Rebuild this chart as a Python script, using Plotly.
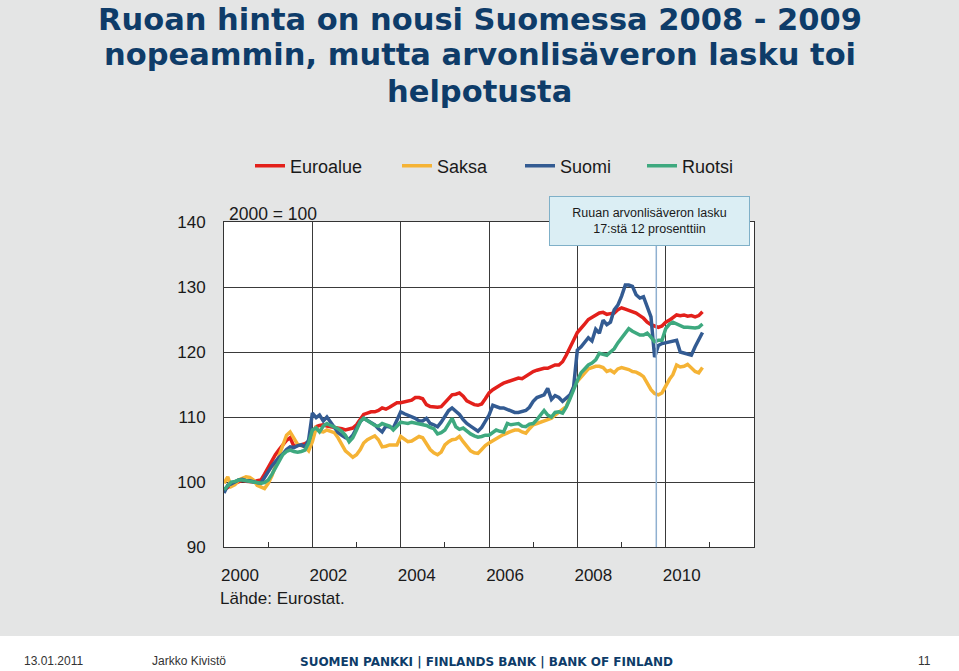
import pandas as pd
import plotly.graph_objects as go

# page / plot-area geometry in pixels
W, H = 959, 671
L, R, T, B = 224, 754, 222, 547


def px2x(px):
    return (px - L) / (R - L)


def px2y(py):
    return (B - py) / (B - T)


months = pd.date_range("2000-01-01", periods=131, freq="MS")

euroalue = [
    98.8, 99.2, 99.5, 99.8, 100.1, 100.3, 100.1, 100.0, 100.0, 100.2, 100.3, 101.2,
    102.3, 103.2, 104.2, 105.0, 105.8, 106.4, 106.8, 105.5, 105.6, 105.7, 105.9, 106.2,
    107.5, 108.5, 108.7, 108.8, 108.6, 108.5, 108.5, 108.3, 108.2, 108.0, 108.1, 108.3,
    108.8, 109.6, 110.4, 110.6, 110.8, 110.8, 111.0, 111.4, 111.2, 111.5, 111.8, 112.2,
    112.2, 112.3, 112.4, 112.6, 113.0, 113.0, 112.8, 111.9, 111.6, 111.5, 111.5, 111.6,
    112.2, 112.8, 113.4, 113.5, 113.7, 113.2, 112.5, 112.2, 111.9, 111.8, 112.0, 112.8,
    113.7, 114.2, 114.6, 114.9, 115.2, 115.4, 115.6, 115.9, 116.0, 115.9, 116.3, 116.6,
    117.0, 117.2, 117.4, 117.5, 117.5, 117.8, 118.0, 118.0, 118.5, 119.5, 120.8, 121.8,
    123.0, 123.6, 124.3, 125.0, 125.3, 125.6, 126.0, 126.1, 125.8, 125.9, 126.0, 126.5,
    126.8, 126.6, 126.4, 126.2, 126.0, 125.6, 125.2, 124.6, 124.2, 124.0, 123.8, 124.0,
    124.6, 124.9, 125.3, 125.7, 125.6, 125.7, 125.5, 125.6, 125.4, 125.6, 126.2,
]

saksa = [
    99.8, 100.8, 99.3, 99.6, 100.3, 100.5, 100.8, 100.7, 100.3, 99.5, 99.2, 99.0,
    99.8, 101.0, 102.5, 104.0, 105.5, 107.2, 107.7, 106.8, 105.8, 105.6, 105.4, 104.8,
    106.2, 108.3, 107.8, 107.7, 108.0, 107.8, 107.6, 106.8, 105.8, 104.8, 104.3, 103.8,
    104.2, 105.0, 106.0, 106.5, 106.8, 107.1, 106.5, 105.4, 105.5, 105.7, 105.7, 105.7,
    107.0, 106.6, 106.2, 106.3, 106.6, 107.0, 106.8, 106.0, 105.0, 104.5, 104.2, 104.6,
    105.7, 106.2, 106.5, 106.6, 107.0, 106.2, 105.4, 104.8, 104.5, 104.4, 105.0, 105.6,
    106.0, 106.4, 106.6, 107.0, 107.3, 107.6, 107.8, 108.0, 108.0, 107.7, 107.5, 108.2,
    108.8, 109.0, 109.2, 109.3, 109.5, 109.8, 110.3, 110.7, 111.2, 111.6, 113.0, 114.6,
    115.5, 116.2, 116.8, 117.4, 117.6, 117.8, 117.8, 117.6, 117.0, 117.2, 116.8, 117.4,
    117.6, 117.5, 117.3, 117.0, 116.9, 116.6, 116.2, 115.2, 114.2, 113.6, 113.4, 113.7,
    114.8, 115.8, 116.5, 118.0, 117.7, 117.8, 118.1, 117.6, 117.0, 116.8, 117.6,
]

suomi = [
    98.3, 99.5, 99.7, 100.0, 100.3, 100.4, 100.2, 100.2, 100.0, 99.9, 99.8, 100.6,
    101.6, 102.5, 103.2, 103.8, 104.3, 105.0, 105.4, 105.3, 105.6, 105.7, 105.4, 106.5,
    110.6, 109.9, 110.3, 109.4, 110.0, 109.2, 108.6, 107.6, 107.2, 106.8, 106.6, 107.2,
    108.3, 109.3, 109.8, 109.5, 109.1, 108.8, 108.2, 107.7, 108.6, 108.5, 108.3, 109.5,
    110.8, 110.5, 110.3, 110.0, 109.8, 109.4, 109.4, 109.8, 109.0, 108.8, 108.5, 109.2,
    110.0, 111.0, 111.4, 110.8, 110.4, 109.6, 109.0, 108.6, 108.2, 107.8, 108.4, 109.4,
    110.3, 111.8, 111.6, 111.4, 111.4, 111.2, 111.0, 110.7, 110.7, 110.8, 111.0, 111.5,
    112.4, 113.0, 113.2, 113.4, 114.4, 112.7, 113.3, 113.0, 112.4, 112.9, 113.4, 114.6,
    120.3, 120.8, 121.5, 122.2, 121.7, 123.5, 122.9, 124.9, 124.2, 124.6, 126.5, 127.2,
    128.6, 130.3, 130.3, 130.1, 128.8, 128.3, 128.5, 126.8, 125.4, 119.2, 121.0, 121.3,
    121.4, 121.5, 121.6, 121.8, 120.0, 119.8, 119.7, 119.5, 120.8, 121.8, 123.0,
]

ruotsi = [
    98.8, 99.5, 100.0, 100.1, 100.3, 100.3, 100.2, 100.1, 100.0, 99.9, 99.8, 99.9,
    100.3, 101.2, 102.2, 103.3, 104.2, 104.7, 104.9, 104.7, 104.6, 104.7, 104.9, 106.0,
    108.0, 108.3, 107.7, 108.6, 109.0, 108.7, 108.5, 108.2, 107.8, 107.2, 106.2, 106.8,
    108.0, 109.3, 109.8, 109.4, 109.0, 108.7, 108.6, 109.0, 108.8, 108.6, 108.0, 108.6,
    109.2, 109.1, 109.0, 109.2, 109.1, 109.0, 108.8, 108.7, 108.4, 108.2, 107.4, 107.6,
    108.0, 109.0, 109.8, 108.5, 108.1, 108.3, 107.8, 107.4, 107.1, 106.9, 107.0, 107.2,
    107.2, 107.6, 108.0, 107.8, 107.7, 109.0, 108.8, 108.9, 109.0, 108.6, 108.5, 108.9,
    109.0, 109.6, 110.2, 111.0, 110.3, 110.0, 110.7, 110.8, 110.6, 111.5, 112.8, 114.3,
    115.6, 116.8, 117.4, 118.0, 118.3, 118.8, 119.8, 119.7, 119.5, 120.0, 120.5, 121.4,
    122.2, 122.8, 123.6, 123.2, 122.9, 122.6, 122.6, 122.9, 122.3, 121.6, 121.8, 121.8,
    123.6, 124.3, 124.6, 124.3, 124.0, 123.8, 123.8, 123.7, 123.7, 123.8, 124.3,
]

year_ticks = ["2000-01-01", "2002-01-01", "2004-01-01", "2006-01-01", "2008-01-01", "2010-01-01"]
year_labels = ["2000", "2002", "2004", "2006", "2008", "2010"]
minor_ticks = ["2001-01-01", "2003-01-01", "2005-01-01", "2007-01-01", "2009-01-01", "2011-01-01"]
vat_cut = "2009-10-15"

title_lines = [
    "Ruoan hinta on nousi Suomessa 2008 - 2009",
    "nopeammin, mutta arvonlisäveron lasku toi",
    "helpotusta",
]

series = [
    ("Euroalue", euroalue, "#e3201b", "legend", 250),
    ("Saksa", saksa, "#f5b335", "legend2", 397),
    ("Suomi", suomi, "#335b92", "legend3", 520),
    ("Ruotsi", ruotsi, "#3ea97f", "legend4", 642),
]

GREY = "#e4e5e5"
NAVY = "#0e3c69"
TXT = "#1a1a1a"

fig = go.Figure()
legends = {}
for name, vals, color, lg, lx in series:
    fig.add_trace(go.Scatter(x=months, y=vals, name=name, mode="lines",
                             line=dict(color=color, width=3.5), legend=lg))
    legends[lg] = dict(x=px2x(lx), y=px2y(166), xanchor="left", yanchor="middle",
                       orientation="h", bgcolor="rgba(0,0,0,0)",
                       font=dict(size=18, color=TXT, family="Liberation Sans"))

# white strip at the bottom of the slide
fig.add_shape(type="rect", xref="paper", yref="paper", x0=px2x(-10), x1=px2x(W + 10),
              y0=px2y(H + 10), y1=px2y(636), fillcolor="white", line_width=0, layer="below")

# VAT cut line
fig.add_shape(type="line", xref="x", yref="y", x0=vat_cut, x1=vat_cut, y0=90,
              y1=140 + (T - 246) / 6.5, line=dict(color="#8fb0d0", width=1.5))

ann = [
    dict(text="2000 = 100", x=px2x(227), y=px2y(214), xanchor="left", yanchor="middle",
         font=dict(size=17.5, color=TXT)),
    dict(text="Lähde: Eurostat.", x=px2x(218), y=px2y(598), xanchor="left", yanchor="middle",
         font=dict(size=17, color=TXT)),
    dict(text="Ruuan arvonlisäveron lasku<br>17:stä 12 prosenttiin", x=px2x(649.5), y=px2y(221),
         xanchor="center", yanchor="middle", width=197, height=46, bgcolor="#dbeef4",
         bordercolor="#7fb0c8", borderwidth=1, borderpad=1, font=dict(size=12.5, color=TXT)),
    dict(text="13.01.2011", x=px2x(22), y=px2y(661), xanchor="left", yanchor="middle",
         font=dict(size=12, color="#333")),
    dict(text="Jarkko Kivistö", x=px2x(150), y=px2y(661), xanchor="left", yanchor="middle",
         font=dict(size=12, color="#333")),
    dict(text="<b>SUOMEN PANKKI | FINLANDS BANK | BANK OF FINLAND</b>", x=px2x(298), y=px2y(662),
         xanchor="left", yanchor="middle", font=dict(size=12, color=NAVY, family="DejaVu Sans")),
    dict(text="11", x=px2x(933), y=px2y(661), xanchor="right", yanchor="middle",
         font=dict(size=12, color="#333")),
]
for line, yc in zip(title_lines, [19, 54, 91]):
    ann.append(dict(text=f"<b>{line}</b>", x=px2x(W / 2), y=px2y(yc), xanchor="center",
                    yanchor="middle", font=dict(family="DejaVu Sans", size=30.5, color=NAVY)))
for a in ann:
    fig.add_annotation(xref="paper", yref="paper", showarrow=False, **a)

fig.update_layout(
    width=W, height=H,
    margin=dict(l=L, r=W - R, t=T, b=H - B),
    paper_bgcolor=GREY, plot_bgcolor="white",
    font=dict(family="Liberation Sans, Arial, sans-serif", color=TXT),
    showlegend=True,
    **legends,
)

fig.update_xaxes(type="date", range=["2000-01-01", "2012-01-01"],
                 tickmode="array", tickvals=year_ticks, ticktext=year_labels,
                 ticks="", ticklabelshift=16, ticklabelstandoff=13,
                 tickfont=dict(size=17, color=TXT),
                 showgrid=True, gridcolor="#3a3a3a", gridwidth=1,
                 showline=True, mirror=True, linecolor="#333", linewidth=1,
                 minor=dict(tickmode="array", tickvals=minor_ticks, ticks="inside",
                            ticklen=5, tickcolor="#333", showgrid=False),
                 zeroline=False)
fig.update_yaxes(range=[90, 140], dtick=10, tick0=90, ticks="",
                 ticklabelstandoff=14, tickfont=dict(size=17, color=TXT),
                 showgrid=True, gridcolor="#3a3a3a", gridwidth=1,
                 showline=True, mirror=True, linecolor="#333", linewidth=1,
                 zeroline=False)

fig.write_html("out.html", config={"displayModeBar": False},
               post_script="document.body.style.margin='0px';")
